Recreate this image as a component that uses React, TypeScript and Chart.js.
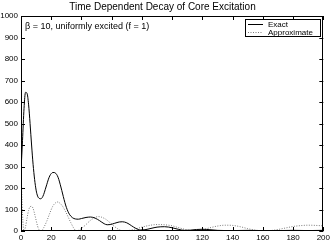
import React, { useEffect, useRef } from "react";
import { Chart, registerables } from "chart.js";

Chart.register(...registerables);

const TITLE = "Time Dependent Decay of Core Excitation";
const NOTE = "\u03B2 = 10, uniformly excited (f = 1)";

const exactT = [0, 1, 2, 3, 4, 5, 6, 7, 8, 9, 10, 11, 12, 13, 14, 15, 16, 17, 18, 19, 20, 21, 22, 23, 24, 25, 26, 27, 28, 29, 30, 31, 32, 34, 36, 38, 40, 43, 46, 49, 52, 55, 57, 59, 62, 65, 67, 70, 73, 76, 79, 82, 86, 90, 95, 100, 104, 108, 112, 116, 120, 125, 130, 140, 150, 160, 170, 180, 190, 200];
const exactV = [280, 420, 570, 645, 640, 590, 500, 400, 310, 240, 190, 162, 152, 150, 155, 170, 192, 215, 238, 256, 267, 272, 272, 268, 258, 240, 215, 188, 160, 133, 110, 92, 78, 62, 56, 55, 58, 63, 65, 60, 48, 34, 29, 30, 36, 42, 43, 38, 25, 12, 5, 6, 12, 18, 20, 15, 8, 3, 4, 7, 8, 6, 3, 2, 3, 2, 2, 3, 2, 3];

const approxT = [0, 0.5, 1, 1.5, 2, 3, 4, 5, 6, 7, 8, 9, 10, 11, 12, 13, 14, 15, 17, 19, 21, 23, 24, 25, 27, 29, 31, 33, 35, 36, 37, 38, 40, 43, 46, 49, 51, 53, 56, 59, 62, 65, 68, 71, 75, 80, 85, 90, 95, 100, 105, 110, 113, 116, 120, 125, 130, 135, 140, 145, 150, 155, 160, 165, 170, 175, 180, 185, 190, 195, 200];
const approxV = [300, 180, 80, 20, 0, 20, 60, 95, 113, 115, 105, 80, 50, 22, 5, 0, 4, 15, 45, 82, 115, 132, 135, 133, 120, 97, 68, 38, 12, 3, 0, 3, 12, 30, 50, 63, 67, 65, 55, 38, 20, 6, 0, 2, 8, 18, 26, 30, 29, 24, 14, 5, 1, 1, 6, 15, 23, 27, 26, 20, 11, 4, 1, 2, 7, 14, 21, 25, 27, 26, 24];

const xTicks = [0, 20, 40, 60, 80, 100, 120, 140, 160, 180, 200];
const yTicks = [0, 100, 200, 300, 400, 500, 600, 700, 800, 900, 1000];

const FONT = "'Liberation Sans', Arial, Helvetica, sans-serif";

const framePlugin = {
  id: "frame",
  afterDraw(chart: any) {
    const { ctx, chartArea: a, scales } = chart;
    ctx.save();
    ctx.strokeStyle = "#000";
    ctx.lineWidth = 1;
    ctx.strokeRect(Math.round(a.left) + 0.5, Math.round(a.top) + 0.5, Math.round(a.right - a.left) - 1, Math.round(a.bottom - a.top) - 1);
    const L = 4;
    ctx.beginPath();
    xTicks.forEach((v) => {
      const px = Math.round(scales.x.getPixelForValue(v)) + 0.5;
      ctx.moveTo(px, a.bottom);
      ctx.lineTo(px, a.bottom - L);
      ctx.moveTo(px, a.top);
      ctx.lineTo(px, a.top + L);
    });
    yTicks.forEach((v) => {
      const py = Math.round(scales.y.getPixelForValue(v)) + 0.5;
      ctx.moveTo(a.left, py);
      ctx.lineTo(a.left + L, py);
      ctx.moveTo(a.right, py);
      ctx.lineTo(a.right - L, py);
    });
    ctx.stroke();

    // annotation
    ctx.fillStyle = "#000";
    ctx.font = `9px ${FONT}`;
    ctx.textBaseline = "middle";
    ctx.textAlign = "left";
    ctx.fillText(NOTE, 25, 27);

    // legend
    const bx = 245.5, by = 19.5, bw = 75, bh = 17;
    ctx.fillStyle = "#fff";
    ctx.fillRect(bx, by, bw, bh);
    ctx.strokeStyle = "#000";
    ctx.setLineDash([]);
    ctx.strokeRect(bx, by, bw, bh);
    ctx.font = `8px ${FONT}`;
    const ds = chart.data.datasets;
    ds.forEach((d: any, i: number) => {
      const y = Math.round(by + 4.5 + i * 8) + 0.5;
      ctx.strokeStyle = d.borderColor;
      ctx.setLineDash(d.borderDash || []);
      ctx.beginPath();
      ctx.moveTo(248, y);
      ctx.lineTo(263, y);
      ctx.stroke();
      ctx.setLineDash([]);
      ctx.fillStyle = "#000";
      ctx.fillText(d.label, 268, y);
    });
    ctx.restore();
  },
};

export default function App() {
  const ref = useRef<HTMLCanvasElement>(null);
  useEffect(() => {
    if (!ref.current) return;
    const chart = new Chart(ref.current, {
      type: "line",
      data: {
        datasets: [
          {
            label: "Exact",
            data: exactT.map((t, i) => ({ x: t, y: exactV[i] })),
            borderColor: "#000",
            borderWidth: 1,
            pointRadius: 0,
            cubicInterpolationMode: "monotone",
          },
          {
            label: "Approximate",
            data: approxT.map((t, i) => ({ x: t, y: approxV[i] })),
            borderColor: "#7a7a7a",
            borderWidth: 1,
            borderDash: [1, 1.5],
            pointRadius: 0,
            cubicInterpolationMode: "monotone",
          },
        ],
      },
      options: {
        animation: false,
        responsive: false,
        devicePixelRatio: 1,
        layout: { padding: { left: 0, right: 7, top: 0, bottom: 0 } },
        plugins: {
          legend: { display: false },
          tooltip: { enabled: false },
          title: {
            display: true,
            text: TITLE,
            color: "#000",
            font: { family: FONT, size: 10, weight: "normal", lineHeight: 1.2 },
            padding: { top: 1.5, bottom: 2.5 },
          },
        },
        scales: {
          x: {
            type: "linear",
            min: 0,
            max: 200,
            afterBuildTicks: (s: any) => {
              s.ticks = xTicks.map((v) => ({ value: v }));
            },
            afterFit: (s: any) => {
              s.height = 11;
            },
            grid: { display: false, drawTicks: false },
            border: { display: false },
            ticks: { color: "#000", font: { family: FONT, size: 8 }, padding: 2, maxRotation: 0, autoSkip: false, callback: (v: any) => String(v) },
          },
          y: {
            type: "linear",
            min: 0,
            max: 1000,
            afterBuildTicks: (s: any) => {
              s.ticks = yTicks.map((v) => ({ value: v }));
            },
            afterFit: (s: any) => {
              s.width = 21;
            },
            grid: { display: false, drawTicks: false },
            border: { display: false },
            ticks: { color: "#000", font: { family: FONT, size: 8 }, padding: 3, autoSkip: false, callback: (v: any) => String(v) },
          },
        },
      },
      plugins: [framePlugin],
    });
    return () => chart.destroy();
  }, []);
  return (
    <div style={{ position: "fixed", left: 0, top: 0, width: 332, height: 242, background: "#fff" }}>
      <canvas ref={ref} width={332} height={242} style={{ width: 332, height: 242 }} />
    </div>
  );
}
